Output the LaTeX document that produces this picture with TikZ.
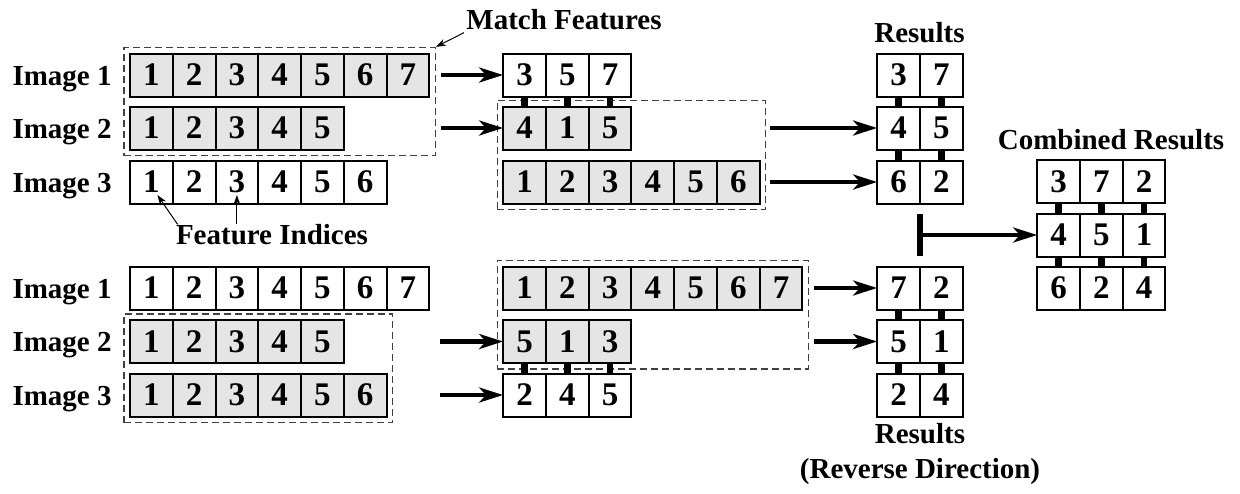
\documentclass[tikz,border=0pt]{standalone}
\usepackage{fontspec}
\setmainfont{Liberation Serif}
\usetikzlibrary{positioning,arrows.meta,fit,calc}

\definecolor{cellgray}{gray}{0.9}

% one row of index cells: name, first x, y, extra style, values
\newcommand{\cellrow}[5]{%
  \foreach \v [count=\i] in {#5} {
    \node[cell,#4] (#1\i) at ({#2+(\i-1)*42.75},#3) {\v};
  }%
}

\begin{document}
\begin{tikzpicture}[
  x=0.5pt,y=-0.5pt,
  font=\fontsize{14.5}{17.5}\selectfont\bfseries,
  cell/.style={draw,line width=1pt,minimum width=21.4pt,minimum height=21.5pt,inner sep=0pt,outer sep=0pt,
    font=\fontsize{16.5}{18}\selectfont\bfseries},
  hit/.style={fill=cellgray},
  lbl/.style={anchor=base east,inner sep=0pt},
  grp/.style={draw=black!75,dash pattern=on 3.5pt off 2pt,line width=0.6pt,inner sep=3pt},
  arr/.style={-{Stealth[length=12pt,width=7.5pt,inset=3.5pt]},line width=2.4pt},
  tie/.style={fill=black},
  ptr/.style={-{Stealth[length=5pt,width=3.5pt]},line width=0.5pt},
  title/.style={inner sep=0pt,align=center}
]
\useasboundingbox (0,0) rectangle (1240,493);

% forward direction
\node[lbl] (la) at (112,85) {Image 1};
\node[lbl] (lb) at (112,138) {Image 2};
\node[lbl] (lc) at (112,192) {Image 3};
\cellrow{ia}{151.4}{75}{hit}{1,2,3,4,5,6,7}
\cellrow{ib}{151.4}{128}{hit}{1,2,3,4,5}
\cellrow{ic}{151.4}{182}{}{1,2,3,4,5,6}

\cellrow{ma}{524.5}{75}{}{3,5,7}
\cellrow{mb}{524.5}{128}{hit}{4,1,5}
\cellrow{mc}{524.5}{182}{hit}{1,2,3,4,5,6}

\cellrow{ra}{898.5}{75}{}{3,7}
\cellrow{rb}{898.5}{128}{}{4,5}
\cellrow{rc}{898.5}{182}{}{6,2}

\node[grp,fit=(ia1)(ia7)(ib1)] (tbox) {};
\node[grp,fit=(mb1)(mc6)] (mbox) {};

% reverse direction
\node[lbl] (lj) at (112,298) {Image 1};
\node[lbl] (lk) at (112,351) {Image 2};
\node[lbl] (ll) at (112,405) {Image 3};
\cellrow{ja}{151.4}{288}{}{1,2,3,4,5,6,7}
\cellrow{jb}{151.4}{341.5}{hit}{1,2,3,4,5}
\cellrow{jc}{151.4}{395}{hit}{1,2,3,4,5,6}

\cellrow{na}{524.5}{288}{hit}{1,2,3,4,5,6,7}
\cellrow{nb}{524.5}{341.5}{hit}{5,1,3}
\cellrow{nc}{524.5}{395}{}{2,4,5}

\cellrow{sa}{898.5}{288}{}{7,2}
\cellrow{sb}{898.5}{341.5}{}{5,1}
\cellrow{sc}{898.5}{395}{}{2,4}

\node[grp,fit=(jb1)(jc6)] (jbox) {};
\node[grp,fit=(na1)(na7)(nb1)] (nbox) {};

% combined
\cellrow{ca}{1058.5}{181.5}{}{3,7,2}
\cellrow{cb}{1058.5}{235}{}{4,5,1}
\cellrow{cc}{1058.5}{288}{}{6,2,4}

% ties between matched cells
\foreach \k in {1,2,3} {
  \path[tie] ([xshift=-1.7pt]ma\k.south) rectangle ([xshift=1.7pt]mb\k.north);
  \path[tie] ([xshift=-1.7pt]nb\k.south) rectangle ([xshift=1.7pt]nc\k.north);
  \path[tie] ([xshift=-1.7pt]ca\k.south) rectangle ([xshift=1.7pt]cb\k.north);
  \path[tie] ([xshift=-1.7pt]cb\k.south) rectangle ([xshift=1.7pt]cc\k.north);
}
\foreach \k in {1,2} {
  \path[tie] ([xshift=-1.7pt]ra\k.south) rectangle ([xshift=1.7pt]rb\k.north);
  \path[tie] ([xshift=-1.7pt]rb\k.south) rectangle ([xshift=1.7pt]rc\k.north);
  \path[tie] ([xshift=-1.7pt]sa\k.south) rectangle ([xshift=1.7pt]sb\k.north);
  \path[tie] ([xshift=-1.7pt]sb\k.south) rectangle ([xshift=1.7pt]sc\k.north);
}

% arrows
\draw[arr,shorten <=2.5pt] (tbox.east |- ma1.west) -- (ma1.west);
\draw[arr,shorten <=2.5pt] (tbox.east |- mb1.west) -- (mb1.west);
\draw[arr,shorten <=2pt] (mbox.east |- rb1.west) -- (rb1.west);
\draw[arr,shorten <=2pt] (mbox.east |- rc1.west) -- (rc1.west);
\draw[arr] ([xshift=-31.5pt]nb1.west) -- (nb1.west);
\draw[arr] ([xshift=-31.5pt]nc1.west) -- (nc1.west);
\draw[arr,shorten <=2.5pt] (nbox.east |- sa1.west) -- (sa1.west);
\draw[arr,shorten <=2.5pt] (nbox.east |- sb1.west) -- (sb1.west);

\coordinate (tee) at ($(rc2.south west)!0.5!(sa2.north west)$);
\path[tie] ([xshift=-1.4pt,yshift=10.5pt]tee) rectangle ([xshift=1.4pt,yshift=-10.5pt]tee);
\draw[arr] (tee) -- (cb1.west);

% titles
\node[title] (match) at (564,20) {Match Features};
\draw[ptr] ([xshift=-1pt,yshift=-1pt]match.south west) -- (tbox.north east);
\node[title] (resa) at (919.5,33) {Results};
\node[title] (comb) at (1111,140) {Combined Results};
\node[title] (feat) at (272,235) {Feature Indices};
\draw[ptr] ([xshift=1pt]feat.north west) -- ([xshift=3pt,yshift=-6.5pt]ic1.center);
\draw[ptr] (ic3.center |- feat.north) -- ([yshift=-6.5pt]ic3.center);
\node[title] (resb) at (920,454) {Results\\(Reverse Direction)};
\end{tikzpicture}
\end{document}
